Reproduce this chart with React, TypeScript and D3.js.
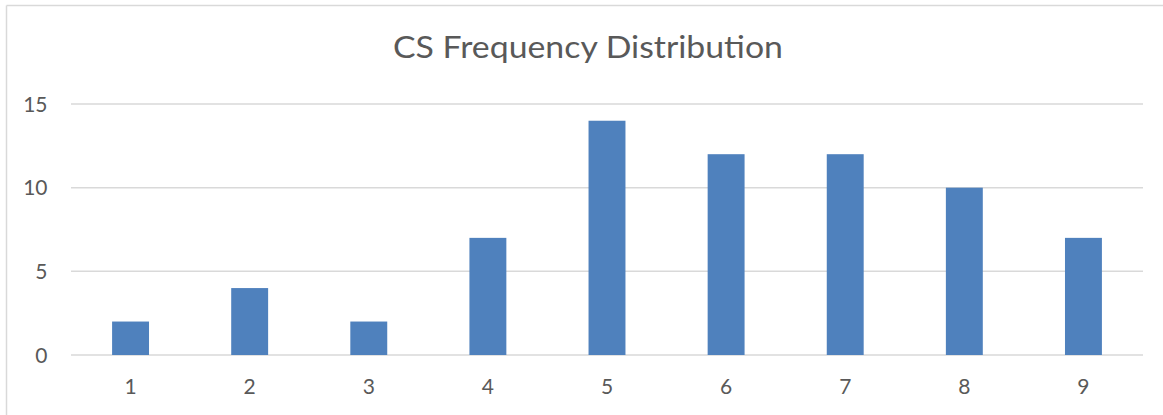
import React from "react";
import * as d3 from "d3";

const title = "CS Frequency Distribution";
const categories = ["1", "2", "3", "4", "5", "6", "7", "8", "9"];
const values = [2, 4, 2, 7, 14, 12, 12, 10, 7];
const yTicks = [0, 5, 10, 15];

export default function App() {
  const W = 1163, H = 415;
  const left = 71, right = 1143, top = 104, bottom = 355;
  const x = d3.scaleBand().domain(categories).range([left, right]).paddingInner(0.69).paddingOuter(0.345);
  const y = d3.scaleLinear().domain([0, 15]).range([bottom, top]);
  const font = "Lato, 'Open Sans', sans-serif";
  return (
    <svg width={W} height={H} style={{ position: "absolute", left: 0, top: 0, background: "#fff" }}>
      <line x1={6.5} y1={5.5} x2={W} y2={5.5} stroke="#d9d9d9" strokeWidth={1.5} />
      <line x1={6.5} y1={5.5} x2={6.5} y2={H} stroke="#d9d9d9" strokeWidth={1.5} />
      <text x={393} y={58} textLength={390} lengthAdjust="spacingAndGlyphs" fontFamily={font} fontSize={30} fill="#595959">{title}</text>
      {yTicks.map((t) => (
        <g key={t}>
          <line x1={left} x2={right} y1={y(t)} y2={y(t)} stroke="#d9d9d9" strokeWidth={1.5} />
          <text x={47.5} y={y(t) + 7.5} textAnchor="end" fontFamily={font} fontSize={21} fill="#595959">{t}</text>
        </g>
      ))}
      {values.map((v, i) => (
        <rect key={i} x={x(categories[i])} width={x.bandwidth()} y={y(v)} height={y(0) - y(v)} fill="#4f81bd" />
      ))}
      {categories.map((c) => (
        <text key={c} x={(x(c) as number) + x.bandwidth() / 2} y={394} textAnchor="middle" fontFamily={font} fontSize={21} fill="#595959">{c}</text>
      ))}
    </svg>
  );
}
